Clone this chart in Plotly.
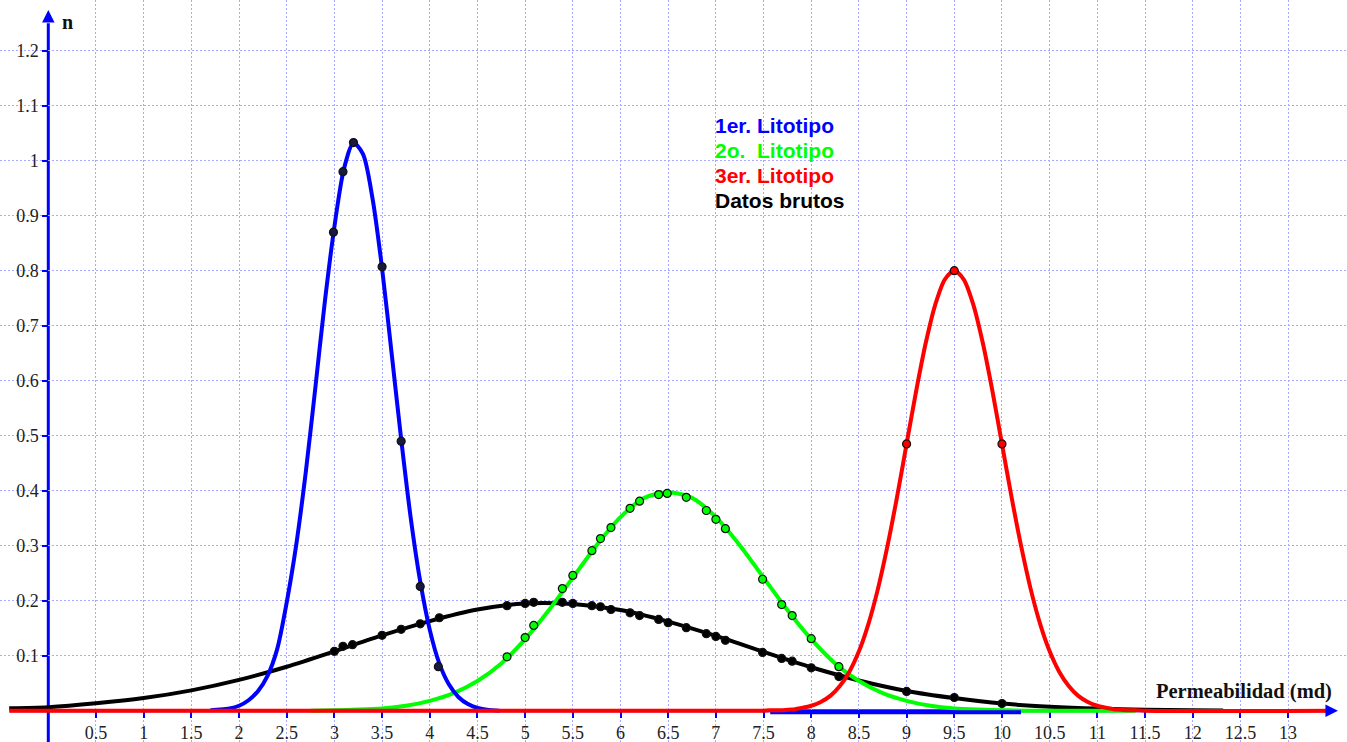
import plotly.graph_objects as go

# lecturas del grafico: x = permeabilidad (md), y = n

# 1er. Litotipo (curva azul)
blue_x = [1.7, 1.8, 1.9, 2.0, 2.1, 2.2, 2.3, 2.4, 2.5, 2.6, 2.7, 2.8, 2.9, 3.0, 3.1, 3.2,
          3.3, 3.4, 3.5, 3.6, 3.7, 3.8, 3.9, 4.0, 4.1, 4.2, 4.3, 4.4, 4.5, 4.6, 4.73]
blue_y = [0.001, 0.002, 0.004, 0.009, 0.019, 0.036, 0.064, 0.112, 0.197, 0.302, 0.434, 0.587,
          0.744, 0.880, 0.985, 1.032, 1.012, 0.931, 0.804, 0.650, 0.494, 0.351, 0.235, 0.147,
          0.086, 0.048, 0.025, 0.012, 0.005, 0.002, 0.0]
blue_tail_x = [7.57, 10.2]
blue_tail_y = [-0.003, -0.003]
blue_pts_x = [2.99, 3.09, 3.2, 3.5, 3.7, 3.9, 4.09]
blue_pts_y = [0.87, 0.98, 1.033, 0.807, 0.49, 0.226, 0.08]

# 2o. Litotipo (curva verde)
green_x = [2.75, 3.0, 3.25, 3.5, 3.75, 4.0, 4.25, 4.5, 4.75, 5.0, 5.25, 5.5, 5.75, 6.0, 6.25, 6.5,
           6.75, 7.0, 7.25, 7.5, 7.75, 8.0, 8.25, 8.5, 8.75, 9.0, 9.25, 9.5, 9.75, 10.0, 10.25, 11.4]
green_y = [0.0, 0.001, 0.002, 0.004, 0.009, 0.018, 0.032, 0.054, 0.086, 0.130, 0.183, 0.242,
           0.301, 0.352, 0.387, 0.397, 0.387, 0.352, 0.301, 0.242, 0.183, 0.130, 0.086, 0.054,
           0.032, 0.018, 0.009, 0.004, 0.002, 0.001, 0.0, 0.0]
green_pts_x = [4.81, 5.0, 5.09, 5.39, 5.5, 5.7, 5.79, 5.9, 6.1, 6.2, 6.4, 6.49, 6.69, 6.9, 7.0,
               7.1, 7.49, 7.69, 7.8, 8.0, 8.29]
green_pts_y = [0.098, 0.133, 0.155, 0.222, 0.246, 0.291, 0.313, 0.333, 0.368, 0.381, 0.393,
               0.395, 0.388, 0.364, 0.348, 0.331, 0.239, 0.193, 0.173, 0.131, 0.080]

# 3er. Litotipo (curva roja)
red_x = [-0.41, 7.5, 7.6, 7.7, 7.8, 7.9, 8.0, 8.1, 8.2, 8.3, 8.4, 8.5, 8.6, 8.7, 8.8, 8.9, 9.0,
         9.1, 9.2, 9.3, 9.4, 9.5, 9.6, 9.7, 9.8, 9.9, 10.0, 10.1, 10.2, 10.3, 10.4, 10.5, 10.6,
         10.7, 10.8, 10.9, 11.0, 11.1, 11.2, 11.3, 11.4, 11.5, 13.47]
red_y = [0.0, 0.0, 0.001, 0.001, 0.002, 0.005, 0.009, 0.016, 0.027, 0.045, 0.071, 0.108, 0.158,
         0.222, 0.300, 0.389, 0.485, 0.581, 0.668, 0.738, 0.784, 0.800, 0.784, 0.738, 0.668,
         0.581, 0.485, 0.389, 0.300, 0.222, 0.158, 0.108, 0.071, 0.045, 0.027, 0.016, 0.009,
         0.005, 0.002, 0.001, 0.001, 0.0, 0.0]
red_pts_x = [9.0, 9.5, 10.0]
red_pts_y = [0.485, 0.80, 0.485]

# Datos brutos (curva negra)
black_x = [-0.41, 0, 0.5, 1, 1.5, 2, 2.5, 3, 3.5, 4, 4.5, 5, 5.5, 6, 6.5, 7, 7.5, 8, 8.5, 9,
           9.5, 10, 10.5, 11, 11.5, 12, 12.32]
black_y = [0.0044, 0.0065, 0.0135, 0.023, 0.037, 0.056, 0.080, 0.108, 0.137, 0.163, 0.184,
           0.195, 0.194, 0.183, 0.162, 0.136, 0.107, 0.079, 0.055, 0.036, 0.023, 0.013, 0.0073,
           0.0038, 0.0018, 0.0008, 0.0005]
black_pts_x = [3.0, 3.09, 3.19, 3.5, 3.7, 3.9, 4.1, 4.81, 5.0, 5.09, 5.39, 5.5, 5.7, 5.79, 5.9,
               6.1, 6.2, 6.4, 6.5, 6.69, 6.9, 7.0, 7.1, 7.49, 7.69, 7.8, 8.0, 8.29, 9.0, 9.5, 10.0]
black_pts_y = [0.108, 0.117, 0.120, 0.137, 0.148, 0.158, 0.169, 0.191, 0.195, 0.197, 0.197,
               0.195, 0.191, 0.189, 0.184, 0.178, 0.173, 0.166, 0.160, 0.151, 0.140, 0.135,
               0.128, 0.106, 0.095, 0.090, 0.078, 0.062, 0.035, 0.024, 0.013]

x_ticks = [0.5, 1, 1.5, 2, 2.5, 3, 3.5, 4, 4.5, 5, 5.5, 6, 6.5, 7, 7.5, 8, 8.5, 9, 9.5, 10,
           10.5, 11, 11.5, 12, 12.5, 13]
x_labels = ["0.5", "1", "1.5", "2", "2.5", "3", "3.5", "4", "4.5", "5", "5.5", "6", "6.5", "7",
            "7.5", "8", "8.5", "9", "9.5", "10", "10.5", "11", "11.5", "12", "12.5", "13"]
y_ticks = [0.1, 0.2, 0.3, 0.4, 0.5, 0.6, 0.7, 0.8, 0.9, 1.0, 1.1, 1.2]
y_labels = ["0.1", "0.2", "0.3", "0.4", "0.5", "0.6", "0.7", "0.8", "0.9", "1", "1.1", "1.2"]

legend_names = ["1er. Litotipo", "2o.\u00a0 Litotipo", "3er. Litotipo", "Datos brutos"]

BLUE = "#0000ff"
GREEN = "#00ff00"
RED = "#ff0000"
BLACK = "#000000"

xr = [-0.5065, 13.618]
yr = [-0.0569, 1.2922]

fig = go.Figure()

def curve(x, y, color):
    fig.add_trace(go.Scatter(x=x, y=y, mode="lines", line=dict(color=color, width=4, shape="spline", smoothing=0.8),
                             hoverinfo="skip", showlegend=False))

def dots(x, y, fill):
    fig.add_trace(go.Scatter(x=x, y=y, mode="markers",
                             marker=dict(size=8, color=fill, line=dict(color="#111", width=1.2)),
                             showlegend=False))

curve(black_x, black_y, BLACK)
curve(green_x, green_y, GREEN)
curve(blue_tail_x, blue_tail_y, BLUE)
curve(blue_x, blue_y, BLUE)
curve(red_x, red_y, RED)
dots(black_pts_x, black_pts_y, BLACK)
dots(green_pts_x, green_pts_y, GREEN)
dots(blue_pts_x, blue_pts_y, "#1a1a40")
dots(red_pts_x, red_pts_y, RED)

tickfont = dict(family="Liberation Serif, Times New Roman, serif", size=18, color="#222")
grid = dict(showgrid=True, gridcolor="#a8a8ff", gridwidth=1, griddash="2px,2px", zeroline=False,
            showline=False, ticks="outside", ticklen=6, tickwidth=2, tickcolor=BLUE,
            tickfont=tickfont, layer="below traces", fixedrange=True)

fig.update_layout(
    width=1347, height=742,
    margin=dict(l=0, r=0, t=0, b=0),
    paper_bgcolor="white", plot_bgcolor="white",
    showlegend=False,
    xaxis=dict(range=xr, tickmode="array", tickvals=x_ticks, ticktext=x_labels,
               anchor="free", position=(0 - yr[0]) / (yr[1] - yr[0]), **grid),
    yaxis=dict(range=yr, tickmode="array", tickvals=y_ticks, ticktext=y_labels,
               anchor="free", position=(0 - xr[0]) / (xr[1] - xr[0]), **grid),
)

# ejes con flechas
fig.add_shape(type="line", x0=-0.40, x1=13.42, y0=0, y1=0, line=dict(color=BLUE, width=3), layer="below")
fig.add_shape(type="line", x0=0, x1=0, y0=yr[0], y1=1.25, line=dict(color=BLUE, width=3), layer="below")
fig.add_annotation(x=13.523, y=0, ax=13.42, ay=0, axref="x", ayref="y", text="", showarrow=True,
                   arrowhead=2, arrowsize=1, arrowwidth=2.5, arrowcolor=BLUE)
fig.add_annotation(x=0, y=1.274, ax=0, ay=1.25, axref="x", ayref="y", text="", showarrow=True,
                   arrowhead=2, arrowsize=1, arrowwidth=2.5, arrowcolor=BLUE)

serif_b = dict(family="Liberation Serif, Times New Roman, serif", size=20, color="#111")
fig.add_annotation(x=67 / 1347, y=1 - 22 / 742, xref="paper", yref="paper", xanchor="center",
                   yanchor="middle", text="<b>n</b>", showarrow=False, font=serif_b)
fig.add_annotation(x=1334 / 1347, y=1 - 691 / 742, xref="paper", yref="paper", xanchor="right",
                   yanchor="middle", text="<b>Permeabilidad (md)</b>", showarrow=False,
                   font=dict(serif_b, size=20.5))

# leyenda como texto de colores
for i, (name, col) in enumerate(zip(legend_names, [BLUE, GREEN, RED, BLACK])):
    fig.add_annotation(x=713 / 1347, y=1 - (125 + 25.3 * i) / 742, xref="paper", yref="paper",
                       xanchor="left", yanchor="middle", text="<b>" + name + "</b>", showarrow=False,
                       font=dict(family="Liberation Sans, Arial, sans-serif", size=21, color=col))

fig.write_html("out.html", config={"displayModeBar": False},
               post_script="document.body.style.margin='0';document.body.style.overflow='hidden';")
